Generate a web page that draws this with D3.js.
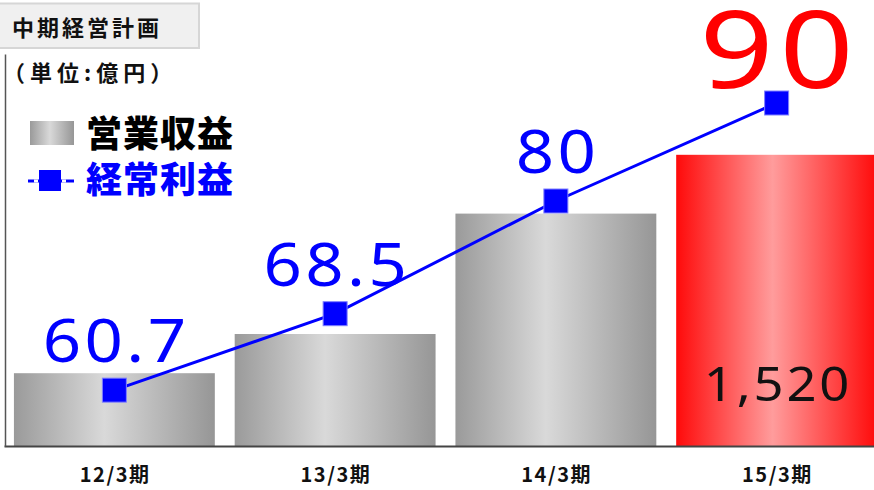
<!DOCTYPE html>
<html>
<head>
<meta charset="utf-8">
<script src="https://cdn.jsdelivr.net/npm/d3@7/dist/d3.min.js"></script>
<style>
  html, body { margin: 0; padding: 0; background: #ffffff; }
  svg { display: block; }
  .jp { font-family: "Noto Sans CJK JP", "Noto Sans", sans-serif; font-weight: 700; }
  .jpb { font-family: "Noto Sans CJK JP", "Noto Sans", sans-serif; font-weight: 900; }
  .num { font-family: "Noto Sans", "Open Sans", sans-serif; font-weight: 400; }
</style>
</head>
<body>
<svg id="chart" width="874" height="490"></svg>
<script>
// Mid-term plan: operating revenue (bars) and ordinary profit (line), 100M yen
const categories = ["12/3期", "13/3期", "14/3期", "15/3期"];
const revenue = [1130, 1200, 1415, 1520];
const revenueLabels = ["", "", "", "1,520"];
const profit = [60.7, 68.5, 80, 90];
const profitLabels = ["60.7", "68.5", "80", "90"];
const revenueDomain = [1000, 1700];
const profitDomain = [55, 95];

const svg = d3.select("#chart");
const plot = { left: 4, right: 887, top: 54, bottom: 446 };

const x = d3.scaleBand().domain(categories).range([plot.left, plot.right])
  .paddingInner(0.09).paddingOuter(0.045);
const yRev = d3.scaleLinear().domain(revenueDomain).range([plot.bottom, plot.top]);
const yProf = d3.scaleLinear().domain(profitDomain).range([plot.bottom, plot.top]);
const cx = d => x(d) + x.bandwidth() / 2;

// gradients
const defs = svg.append("defs");
function hGrad(id, stops) {
  const g = defs.append("linearGradient").attr("id", id)
    .attr("x1", "0%").attr("x2", "100%").attr("y1", "0%").attr("y2", "0%");
  stops.forEach(s => g.append("stop").attr("offset", s[0]).attr("stop-color", s[1]));
}
hGrad("gGray", [["0%", "#9a9a9a"], ["45%", "#d9d9d9"], ["100%", "#969696"]]);
hGrad("gRed", [["0%", "#ff0a0a"], ["48%", "#ff9c9c"], ["100%", "#ff0a0a"]]);

// wide numeric label: horizontally stretched, letter-spaced, centred at (px, py)
function wideText(sel, px, py, size, spacing, stretch) {
  const sp = (d, i) => typeof spacing === "function" ? spacing(d, i) : spacing;
  const st = (d, i) => typeof stretch === "function" ? stretch(d, i) : stretch;
  sel.attr("class", "num")
    .attr("transform", (d, i) => `translate(${px(d, i)},${py(d, i)}) scale(${st(d, i)},1)`)
    .attr("text-anchor", "middle")
    .attr("font-size", size)
    .attr("letter-spacing", sp)
    .attr("dx", (d, i) => sp(d, i) / 2);
}

// title box
svg.append("rect").attr("x", -1).attr("y", 3.5).attr("width", 200).attr("height", 44.5)
  .attr("fill", "#f0f0f0").attr("stroke", "#d6d6d6").attr("stroke-width", 2);
svg.append("text").attr("class", "jp").attr("x", 12).attr("y", 36)
  .attr("font-size", 22).attr("letter-spacing", 3).attr("fill", "#111")
  .text("中期経営計画");

// unit label
svg.append("text").attr("class", "jp").attr("x", 3).attr("y", 81)
  .attr("font-size", 22).attr("letter-spacing", 5).attr("fill", "#111")
  .text("（単位:億円）");

// bars
svg.append("g").selectAll("rect").data(categories).join("rect")
  .attr("x", d => x(d))
  .attr("y", (d, i) => yRev(revenue[i]))
  .attr("width", x.bandwidth())
  .attr("height", (d, i) => yRev(revenueDomain[0]) - yRev(revenue[i]))
  .attr("fill", (d, i) => i === 3 ? "url(#gRed)" : "url(#gGray)");

// revenue value label inside the bar
svg.append("g").selectAll("text").data(categories).join("text")
  .call(wideText, d => cx(d), () => yRev(revenueDomain[0]) - 45, 47, 2.5, 1.12)
  .attr("fill", "#111")
  .text((d, i) => revenueLabels[i]);

// axes
const xAxis = svg.append("g").attr("transform", `translate(0,${plot.bottom})`)
  .call(d3.axisBottom(x).tickSize(0).tickPadding(22).tickSizeOuter(0));
xAxis.select(".domain").attr("stroke", "#444").attr("stroke-width", 2);
xAxis.selectAll("text").attr("class", "jp").attr("font-size", 20)
  .attr("letter-spacing", 1.5).attr("dx", 0.75).attr("fill", "#111");

const yAxis = svg.append("g").attr("transform", `translate(${plot.left + 1},0)`)
  .call(d3.axisLeft(yRev).tickValues([]).tickSizeOuter(0));
yAxis.select(".domain").attr("stroke", "#555").attr("stroke-width", 1.5);

// profit line
const line = d3.line().x((d, i) => cx(categories[i])).y(d => yProf(d));
svg.append("path").datum(profit).attr("d", line)
  .attr("fill", "none").attr("stroke", "#0000ff").attr("stroke-width", 3);

const mk = 24;
svg.append("g").selectAll("rect").data(profit).join("rect")
  .attr("x", (d, i) => cx(categories[i]) - mk / 2)
  .attr("y", d => yProf(d) - mk / 2)
  .attr("width", mk).attr("height", mk)
  .attr("fill", "#0000ff").attr("stroke", "#8080ff").attr("stroke-width", 1);

// profit labels
svg.append("g").selectAll("text").data(profit).join("text")
  .call(wideText,
    (d, i) => cx(categories[i]),
    (d, i) => yProf(d) - (i === 3 ? 15 : 28),
    (d, i) => i === 3 ? 108 : 60,
    (d, i) => i === 3 ? 5 : 3,
    (d, i) => i === 3 ? 1.2 : 1.12)
  .attr("fill", (d, i) => i === 3 ? "#ff0000" : "#0000ff")
  .text((d, i) => profitLabels[i]);

// legend
svg.append("rect").attr("x", 30).attr("y", 121).attr("width", 44).attr("height", 24)
  .attr("fill", "url(#gGray)");
svg.append("text").attr("class", "jpb").attr("x", 86).attr("y", 147)
  .attr("font-size", 36).attr("letter-spacing", 1).attr("fill", "#000").text("営業収益");

svg.append("line").attr("x1", 28).attr("x2", 74).attr("y1", 181).attr("y2", 181)
  .attr("stroke", "#0000ff").attr("stroke-width", 3);
svg.append("rect").attr("x", 39).attr("y", 170).attr("width", 22).attr("height", 21)
  .attr("fill", "#0000ff");
svg.append("line").attr("x1", 62).attr("x2", 66).attr("y1", 181).attr("y2", 181)
  .attr("stroke", "#ffffff").attr("stroke-width", 3);
svg.append("line").attr("x1", 34).attr("x2", 38).attr("y1", 181).attr("y2", 181)
  .attr("stroke", "#ffffff").attr("stroke-width", 3);
svg.append("text").attr("class", "jpb").attr("x", 86).attr("y", 193)
  .attr("font-size", 36).attr("letter-spacing", 1).attr("fill", "#0000ff").text("経常利益");
</script>
</body>
</html>
